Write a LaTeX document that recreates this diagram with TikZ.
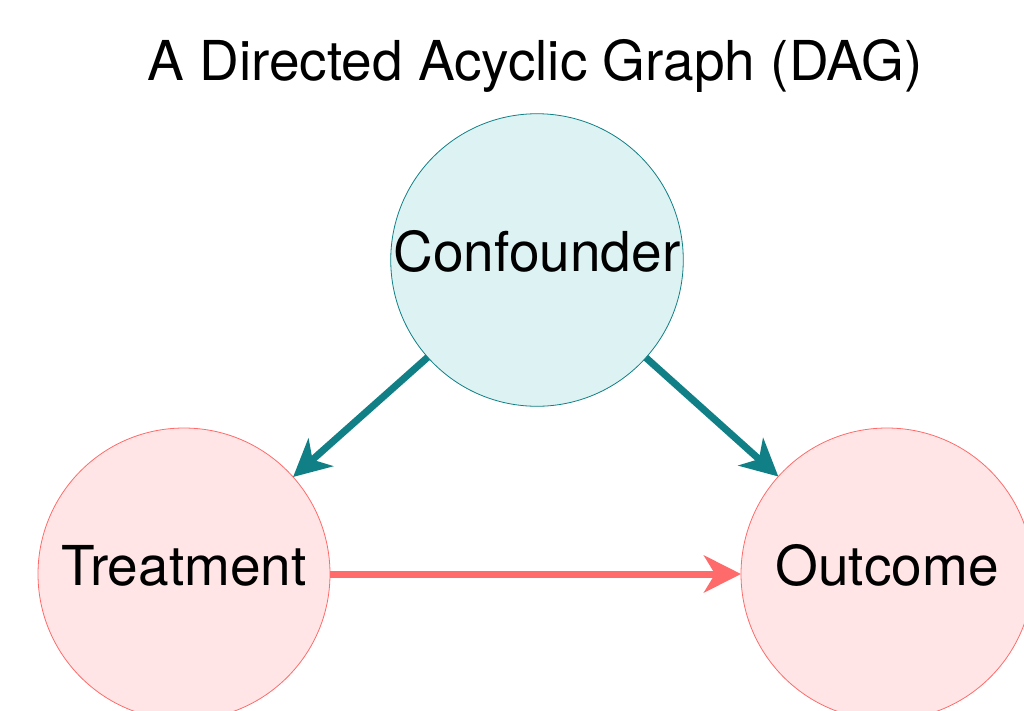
\documentclass[tikz,border=0pt]{standalone}
\usepackage{fontspec}
\setmainfont{TeX Gyre Heros}
\usepackage{xcolor}
\usetikzlibrary{arrows.meta}

\definecolor{tealline}{HTML}{118086}
\definecolor{tealfill}{HTML}{DDF2F2}
\definecolor{redline}{HTML}{FF6B6B}
\definecolor{redfill}{HTML}{FFE5E5}

\begin{document}
\begin{tikzpicture}[
  x=1pt, y=-1pt,
  var/.style={circle, minimum size=292pt, inner sep=0pt, outer sep=0pt, line width=0.8pt, text depth=18pt, font=\fontsize{55}{60}\selectfont},
  confnode/.style={var, draw=tealline, fill=tealfill},
  mainnode/.style={var, draw=redline, fill=redfill},
  arrow/.style={-{Stealth[length=37pt, width=37pt, inset=11pt]}, line width=7pt}
]
\clip (0,0) rectangle (1024,710);

\node[anchor=base, font=\fontsize{55}{60}\selectfont] (title) at (535,80) {A Directed Acyclic Graph (DAG)};

\node[confnode] (conf) at (537,260) {Confounder};
\node[mainnode] (treat) at (184,574) {Treatment};
\node[mainnode] (outc) at (887,574) {Outcome};

\draw[arrow, tealline] (conf) -- (treat);
\draw[arrow, tealline] (conf) -- (outc);
\draw[arrow, redline] (treat) -- (outc);

\end{tikzpicture}
\end{document}
